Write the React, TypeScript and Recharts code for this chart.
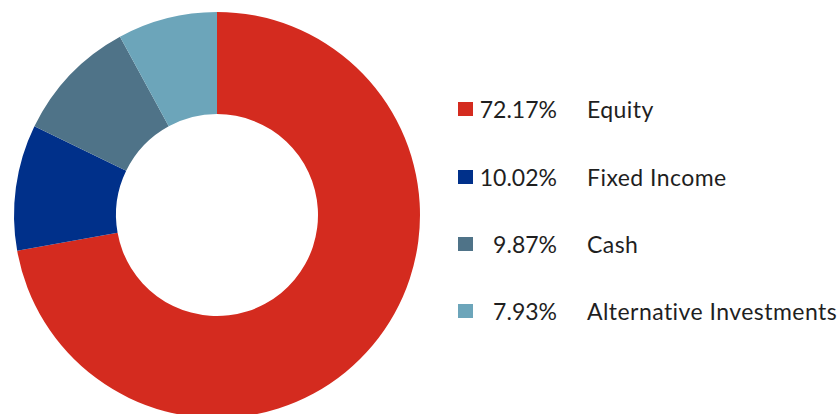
import { PieChart, Pie, Cell, Legend } from 'recharts';

const categories = ['Equity', 'Fixed Income', 'Cash', 'Alternative Investments'];
const shares = [72.17, 10.02, 9.87, 7.93];
const colors = ['#D42B1F', '#00308A', '#4F7388', '#6CA5BA'];

const data = categories.map((name, i) => ({ name, value: shares[i] }));

const rowTop = [109, 177, 244, 311];

const renderLegend = (props: any) => {
  const items = props.payload || [];
  return (
    <div style={{ position: 'relative', width: 839, height: 414, fontFamily: 'Lato, "Open Sans", sans-serif', color: '#1f1f1f' }}>
      {items.map((entry: any, i: number) => {
        const idx = categories.indexOf(entry.value);
        const y = rowTop[idx >= 0 ? idx : i];
        return (
          <div key={entry.value}>
            <div
              style={{
                position: 'absolute',
                left: 458,
                top: y - 7,
                width: 15,
                height: 14,
                background: entry.color,
              }}
            />
            <div
              style={{
                position: 'absolute',
                right: 839 - 557,
                top: y - 15,
                fontSize: 23,
                lineHeight: '30px',
                whiteSpace: 'nowrap',
              }}
            >
              {shares[idx].toFixed(2)}%
            </div>
            <div
              style={{
                position: 'absolute',
                left: 587,
                top: y - 15,
                fontSize: 23,
                lineHeight: '30px',
                letterSpacing: 0.45,
                whiteSpace: 'nowrap',
              }}
            >
              {entry.value}
            </div>
          </div>
        );
      })}
    </div>
  );
};

export default function App() {
  return (
    <div style={{ position: 'absolute', left: 0, top: 0, width: 839, height: 414, background: '#fff' }}>
      <PieChart width={839} height={414} margin={{ top: 0, right: 0, bottom: 0, left: 0 }}>
        <Pie
          data={data}
          dataKey="value"
          nameKey="name"
          cx={217}
          cy={215}
          innerRadius={101}
          outerRadius={203}
          startAngle={90}
          endAngle={-270}
          stroke="none"
          isAnimationActive={false}
        >
          {data.map((d, i) => (
            <Cell key={d.name} fill={colors[i]} />
          ))}
        </Pie>
        <Legend
          content={renderLegend}
          wrapperStyle={{ left: 0, top: 0, width: 839, height: 414 }}
        />
      </PieChart>
    </div>
  );
}
